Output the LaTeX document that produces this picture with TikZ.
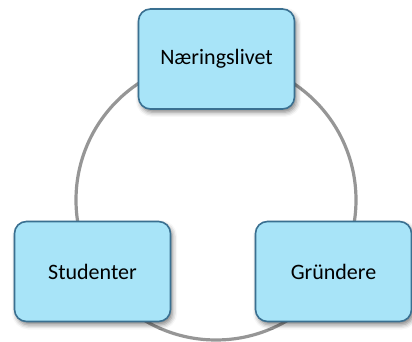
\documentclass[tikz,border=0pt]{standalone}
\usepackage{fontspec}
\setmainfont{Carlito}
\usetikzlibrary{shadows.blur}
\definecolor{boxfill}{RGB}{168,228,248}
\definecolor{boxline}{RGB}{58,112,145}
\definecolor{ringline}{RGB}{150,150,150}
\begin{document}
\begin{tikzpicture}[x=0.75pt,y=-0.75pt,
  partbox/.style={draw=boxline, line width=1.2pt, fill=boxfill, rounded corners=9pt,
    minimum width=117pt, minimum height=75pt, inner sep=0pt,
    font=\fontsize{16.5}{19}\selectfont,
    blur shadow={shadow xshift=1.5pt, shadow yshift=-2.5pt, shadow blur radius=3.5pt, shadow opacity=50}},
  ring/.style={draw=ringline, line width=2.4pt}]
\useasboundingbox (0,0) rectangle (412,342);
\coordinate (centre) at (216,200);
\draw[ring] (centre) circle[radius=140];
\node[partbox] (naering) at (216.5,59) {Næringslivet};
\node[partbox] (student) at (92.5,271.5) {Studenter};
\node[partbox] (grunder) at (333.5,271.5) {Gründere};
\end{tikzpicture}
\end{document}
